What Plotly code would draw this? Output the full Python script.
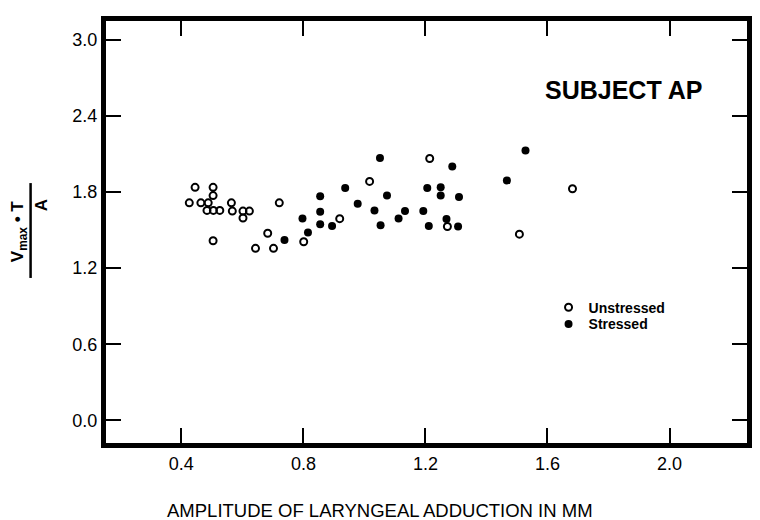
import plotly.graph_objects as go

# Data
unstressed_x = [0.445, 0.504, 0.504, 0.426, 0.464, 0.488, 0.564, 0.484, 0.505, 0.526,
                0.567, 0.602, 0.623, 0.602, 0.721, 0.919, 0.504, 0.683, 0.643, 0.702,
                0.801, 1.017, 1.214, 1.272, 1.682, 1.508]
unstressed_y = [1.837, 1.837, 1.772, 1.715, 1.715, 1.715, 1.715, 1.655, 1.655, 1.655,
                1.650, 1.650, 1.650, 1.595, 1.715, 1.590, 1.416, 1.475, 1.356, 1.356,
                1.408, 1.884, 2.065, 1.528, 1.826, 1.468]
stressed_x = [0.855, 0.855, 0.855, 0.937, 0.978, 0.797, 0.815, 0.894, 0.738, 1.051,
              1.288, 1.074, 1.033, 1.133, 1.112, 1.053, 1.206, 1.250, 1.250, 1.310,
              1.193, 1.269, 1.211, 1.307, 1.467, 1.528]
stressed_y = [1.767, 1.645, 1.546, 1.832, 1.707, 1.592, 1.481, 1.533, 1.421, 2.068,
              2.001, 1.772, 1.655, 1.650, 1.592, 1.538, 1.832, 1.837, 1.772, 1.761,
              1.650, 1.588, 1.533, 1.528, 1.892, 2.128]

x_ticks = [0.4, 0.8, 1.2, 1.6, 2.0]
x_tick_labels = ["0.4", "0.8", "1.2", "1.6", "2.0"]
y_ticks = [0.0, 0.6, 1.2, 1.8, 2.4, 3.0]
y_tick_labels = ["0.0", "0.6", "1.2", "1.8", "2.4", "3.0"]

FONT = "Liberation Sans, Arial, Helvetica, sans-serif"

# page body has an 8px margin; figure is sized/offset to compensate
OFF = 8
PL, PR, PT, PB = 106, 752, 16, 443   # plot area in page pixels
W = PR - PL
H = PB - PT

def px_x(p):
    return (p - PL) / W

def px_y(p):
    return (PB - p) / H

fig = go.Figure()
fig.add_trace(go.Scatter(
    x=unstressed_x, y=unstressed_y, mode="markers", name="Unstressed",
    marker=dict(symbol="circle-open", size=7, color="black", line=dict(width=2, color="black")),
    legend="legend",
))
fig.add_trace(go.Scatter(
    x=stressed_x, y=stressed_y, mode="markers", name="Stressed",
    marker=dict(symbol="circle", size=8, color="black", line=dict(width=0)),
    legend="legend2",
))

axis_common = dict(
    showline=True, linewidth=5, linecolor="black", mirror="ticks",
    ticks="inside", ticklen=15, tickwidth=2, tickcolor="black",
    showgrid=False, zeroline=False,
    tickfont=dict(family=FONT, size=18, color="black"),
)

legend_common = dict(
    xanchor="left", yanchor="middle",
    bgcolor="rgba(0,0,0,0)", borderwidth=0,
    font=dict(family=FONT, size=14, color="black", weight="bold"),
    itemwidth=30, tracegroupgap=0,
)

fig.update_layout(
    width=760 - OFF, height=520 - OFF,
    margin=dict(l=PL - OFF, r=760 - PR, t=PT - OFF, b=520 - PB),
    paper_bgcolor="white", plot_bgcolor="white",
    xaxis=dict(range=[0.153, 2.254], tickvals=x_ticks, ticktext=x_tick_labels,
               ticklabelstandoff=0, **axis_common),
    yaxis=dict(range=[-0.179, 3.149], tickvals=y_ticks, ticktext=y_tick_labels, **axis_common),
    showlegend=True,
    legend=dict(x=px_x(552), y=px_y(306), **legend_common),
    legend2=dict(x=px_x(552), y=px_y(323), **legend_common),
)

fig.add_annotation(
    text="SUBJECT AP", xref="paper", yref="paper", x=px_x(628), y=px_y(86),
    showarrow=False, xanchor="center", yanchor="middle",
    font=dict(family=FONT, size=25, color="black", weight="bold"),
)
fig.add_annotation(
    text="AMPLITUDE OF LARYNGEAL ADDUCTION IN MM", xref="paper", yref="paper",
    x=px_x(382), y=px_y(511), showarrow=False, xanchor="center", yanchor="middle",
    font=dict(family=FONT, size=18.5, color="black"),
)
# y-axis title as rotated fraction
fig.add_annotation(
    text="V<sub>max</sub> • T", xref="paper", yref="paper", x=px_x(18), y=px_y(229),
    showarrow=False, xanchor="center", yanchor="middle", textangle=-90,
    borderpad=0,
    font=dict(family=FONT, size=17, color="black", weight="bold"),
)
fig.add_annotation(
    text="A", xref="paper", yref="paper", x=px_x(41), y=px_y(203),
    showarrow=False, xanchor="center", yanchor="middle", textangle=-90,
    borderpad=0,
    font=dict(family=FONT, size=17, color="black", weight="bold"),
)
fig.add_shape(type="line", xref="paper", yref="paper",
              x0=px_x(30), x1=px_x(30), y0=px_y(180), y1=px_y(276),
              line=dict(color="black", width=2.5))

fig.write_html("out.html")
